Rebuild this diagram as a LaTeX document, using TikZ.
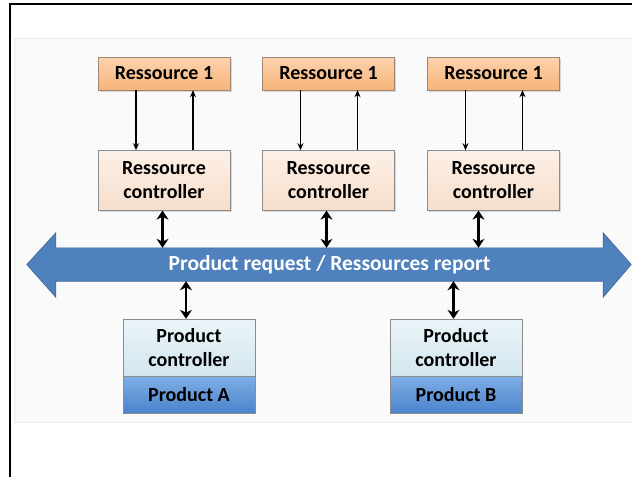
\documentclass[tikz,border=0pt]{standalone}
\usepackage{fontspec}
\setmainfont{Carlito}
\usetikzlibrary{arrows.meta,positioning,shadows,calc}

\definecolor{restop}{HTML}{FCD3AE}
\definecolor{resbot}{HTML}{F7B47A}
\definecolor{resedge}{HTML}{9C8674}
\definecolor{ctrltop}{HTML}{FDF0E6}
\definecolor{ctrlbot}{HTML}{F6DECB}
\definecolor{pctop}{HTML}{EAF4F8}
\definecolor{pcbot}{HTML}{D3E6EF}
\definecolor{prodtop}{HTML}{7FAEE6}
\definecolor{prodbot}{HTML}{4A82CC}
\definecolor{boxedge}{HTML}{8C8C8C}
\definecolor{busfill}{HTML}{4F81BD}
\definecolor{busedge}{HTML}{3A6496}

\tikzset{
  boxfont/.style={font=\fontsize{20}{24}\selectfont\bfseries, text=black},
  resbox/.style={boxfont, draw=resedge, top color=restop, bottom color=resbot,
    minimum width=132pt, minimum height=33pt, inner sep=0pt,
    drop shadow={opacity=0.3, shadow xshift=1.5pt, shadow yshift=-1.5pt}},
  ctrlbox/.style={boxfont, draw=boxedge, top color=ctrltop, bottom color=ctrlbot,
    minimum width=132pt, minimum height=60pt, inner sep=0pt, align=center,
    drop shadow={opacity=0.3, shadow xshift=1.5pt, shadow yshift=-1.5pt}},
  pcbox/.style={boxfont, draw=boxedge, top color=pctop, bottom color=pcbot,
    minimum width=132pt, minimum height=57pt, inner sep=0pt, align=center},
  prodbox/.style={boxfont, draw=boxedge, top color=prodtop, bottom color=prodbot,
    minimum width=132pt, minimum height=37pt, inner sep=0pt},
  thinarrow/.style={-{Stealth[length=7pt,width=6pt]}, line width=1.3pt},
  busarrow/.style={{Stealth[length=9pt,width=12pt]}-{Stealth[length=9pt,width=12pt]}, line width=2.4pt},
}

\begin{document}
\begin{tikzpicture}[x=1pt,y=-1pt]
  \useasboundingbox (0,0) rectangle (632,477);
  % frame and panel
  \draw[line width=2pt] (10,477) -- (10,4) -- (632,4);
  \draw[draw=black!8, fill=black!2] (14,38) rectangle (640,422);

  % ressources
  \node[resbox] (res1) at (164,73.5) {Ressource 1};
  \node[resbox] (res2) at (328.5,73.5) {Ressource 1};
  \node[resbox] (res3) at (493.5,73.5) {Ressource 1};

  % ressource controllers
  \node[ctrlbox, below=60pt of res1] (ctrl1) {Ressource\\controller};
  \node[ctrlbox, below=60pt of res2] (ctrl2) {Ressource\\controller};
  \node[ctrlbox, below=60pt of res3] (ctrl3) {Ressource\\controller};

  % bus
  \node[minimum width=547pt, minimum height=33pt, inner sep=0pt] (bus) at (329.5,264.5) {};
  \fill[busfill, draw=busedge, line width=0.6pt]
    (bus.north west) -- (bus.north east) -- ++(0,-15) -- ($(bus.east)+(28,0)$)
    -- ($(bus.south east)+(0,16)$) -- (bus.south east) -- (bus.south west)
    -- ($(bus.south west)+(0,16)$) -- ($(bus.west)+(-29,0)$) -- ($(bus.north west)+(0,-15)$) -- cycle;
  \node[font=\fontsize{21.5}{24}\selectfont\bfseries, text=white] (buslabel) at (bus) {Product request / Ressources report};

  % products
  \node[pcbox] (pcA) at (189,347.5) {Product\\controller};
  \node[prodbox, below=0pt of pcA] (prodA) {Product A};
  \node[pcbox] (pcB) at (456,347.5) {Product\\controller};
  \node[prodbox, below=0pt of pcB] (prodB) {Product B};

  % ressource <-> controller
  \draw[thinarrow] ([xshift=-28pt]res1.south) -- ([xshift=-28pt]ctrl1.north);
  \draw[thinarrow] ([xshift=29pt]ctrl1.north) -- ([xshift=29pt]res1.south);
  \draw[thinarrow] ([xshift=-28pt]res2.south) -- ([xshift=-28pt]ctrl2.north);
  \draw[thinarrow] ([xshift=29pt]ctrl2.north) -- ([xshift=29pt]res2.south);
  \draw[thinarrow] ([xshift=-28pt]res3.south) -- ([xshift=-28pt]ctrl3.north);
  \draw[thinarrow] ([xshift=29pt]ctrl3.north) -- ([xshift=29pt]res3.south);

  % controllers <-> bus
  \draw[busarrow] ([xshift=-1.5pt]ctrl1.south) -- ([xshift=-1.5pt]ctrl1.south |- bus.north);
  \draw[busarrow] ([xshift=-2pt]ctrl2.south) -- ([xshift=-2pt]ctrl2.south |- bus.north);
  \draw[busarrow] ([xshift=-15pt]ctrl3.south) -- ([xshift=-15pt]ctrl3.south |- bus.north);
  \draw[busarrow] ([xshift=-3pt]pcA.north |- bus.south) -- ([xshift=-3pt]pcA.north);
  \draw[busarrow] ([xshift=-2.5pt]pcB.north |- bus.south) -- ([xshift=-2.5pt]pcB.north);
\end{tikzpicture}
\end{document}
